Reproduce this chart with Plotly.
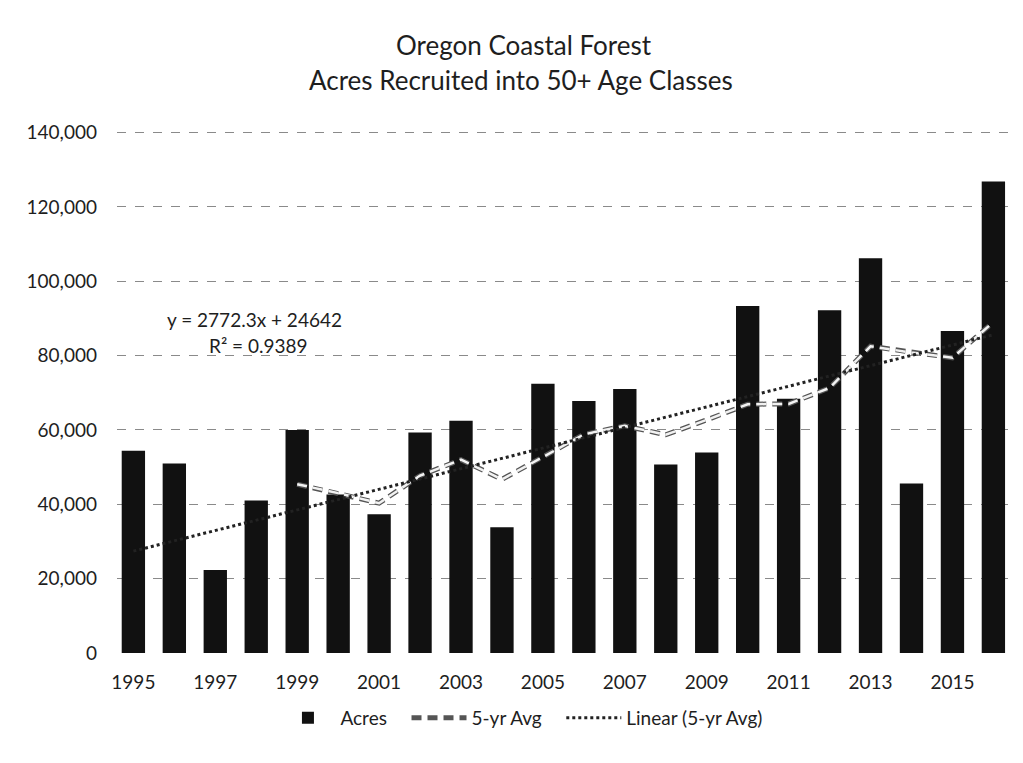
import plotly.graph_objects as go

years = list(range(1995, 2017))
acres = [54400, 51000, 22300, 41000, 60000, 42600, 37300, 59300, 62500, 33800,
         72400, 67800, 71000, 50700, 53900, 93300, 68400, 92200, 106200, 45600,
         86600, 126800]
avg_years = list(range(1999, 2017))
avg5 = [45400, 43000, 40300, 47700, 52000, 46700, 52700, 58800, 61100, 58700,
        62700, 66900, 67000, 71300, 82500, 80800, 79400, 89000]
trend_years = [1995, 2016]
trend_vals = [27400, 85600]
tick_years = [1995, 1997, 1999, 2001, 2003, 2005, 2007, 2009, 2011, 2013, 2015]
y_ticks = [0, 20000, 40000, 60000, 80000, 100000, 120000, 140000]

FONT = "Lato"
TXT = "#1e1e1e"
SP = "\u00a0\u00a0\u00a0"

fig = go.Figure()
fig.add_trace(go.Bar(x=years, y=acres, name="Acres" + SP,
                     marker=dict(color="#111111", line=dict(width=0))))
fig.add_trace(go.Scatter(x=avg_years, y=avg5, mode="lines", name="5-yr Avg" + SP,
                         line=dict(color="#555555", width=5, dash="10px,6px")))
fig.add_trace(go.Scatter(x=avg_years, y=avg5, mode="lines", showlegend=False,
                         hoverinfo="skip",
                         line=dict(color="#f2f2f2", width=2.5, dash="10px,6px")))
fig.add_trace(go.Scatter(x=trend_years, y=trend_vals, mode="lines",
                         name="Linear (5-yr Avg)",
                         line=dict(color="#222222", width=3, dash="dot")))

# trendline equation label
fig.add_annotation(x=1997.95, y=89800, xref="x", yref="y", showarrow=False,
                   text="y = 2772.3x + 24642", font=dict(family=FONT, size=19, color=TXT))
fig.add_annotation(x=1998.05, y=82800, xref="x", yref="y", showarrow=False,
                   text="R² = 0.9389", font=dict(family=FONT, size=19, color=TXT))

# title lines
fig.add_annotation(x=0.4558, y=1.1648, xref="paper", yref="paper", showarrow=False,
                   xanchor="center", yanchor="middle",
                   text="Oregon Coastal Forest", font=dict(family=FONT, size=26, color=TXT))
fig.add_annotation(x=0.4524, y=1.0977, xref="paper", yref="paper", showarrow=False,
                   xanchor="center", yanchor="middle",
                   text="Acres Recruited into 50+ Age Classes",
                   font=dict(family=FONT, size=26, color=TXT))

fig.update_layout(
    width=1023, height=763,
    paper_bgcolor="white", plot_bgcolor="white",
    margin=dict(l=109, r=20, t=123, b=118, autoexpand=False),
    font=dict(family=FONT, size=19, color=TXT),
    bargap=0.43,
    showlegend=True,
    legend=dict(orientation="h", x=0.4524, xanchor="center", y=-0.1245, yanchor="middle",
                itemwidth=55, font=dict(family=FONT, size=19, color=TXT)),
    xaxis=dict(tickmode="array", tickvals=tick_years, ticktext=[str(t) for t in tick_years],
               range=[1994.6, 2016.43], showgrid=False, zeroline=False,
               showline=False, ticks="", ticklabelstandoff=16, tickfont=dict(size=19)),
    yaxis=dict(range=[0, 140400], tickvals=y_ticks, tickformat=",d",
               showgrid=True, gridcolor="#8a8a8a", griddash="dash", gridwidth=1,
               zeroline=False, showline=False, ticks="", ticklabelstandoff=19,
               tickfont=dict(size=19)),
)

fig.write_html("out.html")
